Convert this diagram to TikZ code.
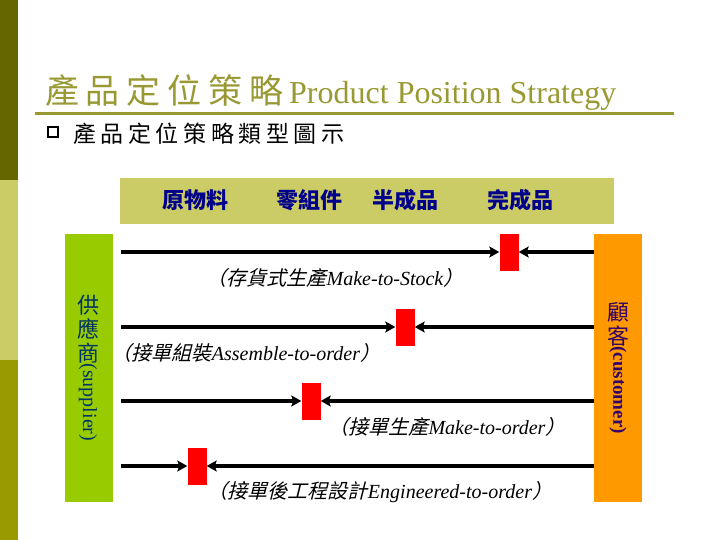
\documentclass[tikz,border=0pt]{standalone}
\usepackage{fontspec}
\setmainfont{Liberation Serif}
\newfontfamily\cjk{Noto Sans CJK TC}
\newfontfamily\cjkwide[LetterSpace=20]{Noto Sans CJK TC}
\newfontfamily\cjkit[FakeSlant=0.25]{Noto Sans CJK TC}
\usetikzlibrary{arrows.meta,positioning}
\definecolor{olivedark}{RGB}{102,102,0}
\definecolor{olivelight}{RGB}{204,204,102}
\definecolor{olivemid}{RGB}{153,153,0}
\definecolor{titleolive}{RGB}{153,153,51}
\definecolor{suppliergreen}{RGB}{153,204,0}
\definecolor{customerorange}{RGB}{255,153,0}
\definecolor{stageblue}{RGB}{0,0,139}
\definecolor{suppliertext}{RGB}{0,51,102}
\definecolor{customertext}{RGB}{51,0,102}
\begin{document}
\begin{tikzpicture}[x=1pt, y=-1pt,
    sidebar/.style={rectangle, minimum width=48pt, minimum height=268pt, inner sep=0pt},
    stockbox/.style={rectangle, fill=red, minimum width=19pt, minimum height=37pt, inner sep=0pt},
    flow/.style={line width=4pt, -{Stealth[length=10pt, width=11pt, inset=2pt]}},
    stage/.style={font=\fontsize{22}{22}\selectfont\cjk\bfseries, text=stageblue, inner sep=0pt},
    caption/.style={font=\fontsize{20}{20}\selectfont\itshape, inner sep=0pt}
  ]
    \useasboundingbox (0,0) rectangle (720,540);
    \fill[white] (0,0) rectangle (720,540);
    % Side strip of the slide
    \fill[olivedark] (0,0) rectangle (18,180);
    \fill[olivelight] (0,180) rectangle (18,360);
    \fill[olivemid] (0,360) rectangle (18,540);

    % Title and bullet line
    \node[anchor=base west, inner sep=0pt, text=titleolive] (title) at (45,104)
      {{\cjkwide\fontsize{34}{34}\selectfont 產品定位策略}\hspace{6pt}\fontsize{32}{32}\selectfont Product Position Strategy};
    \draw[titleolive, line width=3pt] (35,114) -- (674,114);
    \node[draw, line width=2.5pt, minimum size=10pt, inner sep=0pt] (bullet) at (53,132) {};
    \node[anchor=west, inner sep=0pt, font=\cjkwide\fontsize{23}{23}\selectfont] (subtitle) at (73,134) {產品定位策略類型圖示};

    % Stage band
    \node[rectangle, fill=olivelight, minimum width=494pt, minimum height=46pt, inner sep=0pt] (band) at (367,201) {};
    \node[stage] (raw) at (195,200) {原物料};
    \node[stage] (parts) at (309,200) {零組件};
    \node[stage] (semi) at (405,200) {半成品};
    \node[stage] (finished) at (520,200) {完成品};

    % Supplier and customer bars
    \node[sidebar, fill=suppliergreen] (supplier) at (89,368) {};
    \node[sidebar, fill=customerorange] (customer) at (618,368) {};
    \node[align=center, inner sep=0pt, text=suppliertext, font=\cjk\fontsize{22}{24}\selectfont] (suppliercjk) at (88,329) {供\\應\\商};
    \node[rotate=-90, anchor=west, inner sep=0pt, text=suppliertext, font=\fontsize{20}{20}\selectfont] (supplierlatin) at (suppliercjk.south) {(supplier)};
    \node[align=center, inner sep=0pt, text=customertext, font=\cjk\fontsize{22}{24}\selectfont] (customercjk) at (618,324) {顧\\客};
    \node[rotate=-90, anchor=west, inner sep=0pt, text=customertext, font=\fontsize{19}{19}\selectfont\bfseries] (customerlatin) at (customercjk.south) {(customer)};

    % Decoupling points
    \foreach \row/\bx/\by in {1/509/252, 2/405/327, 3/311/401, 4/197/466} {
      \node[stockbox] (box\row) at (\bx,\by) {};
      \draw[flow] ([xshift=8pt]supplier.east |- box\row) -- (box\row.west);
      \draw[flow] (customer.west |- box\row) -- (box\row.east);
    }

    % Strategy labels
    \node[caption] (mts) at (335,278) {{\cjkit （存貨式生產}Make-to-Stock{\cjkit ）}};
    \node[caption] (ato) at (246,353) {{\cjkit （接單組裝}Assemble-to-order{\cjkit ）}};
    \node[caption] (mto) at (447,427) {{\cjkit （接單生產}Make-to-order{\cjkit ）}};
    \node[caption] (eto) at (380,492) {{\cjkit （接單後工程設計}Engineered-to-order{\cjkit ）}};
\end{tikzpicture}
\end{document}
